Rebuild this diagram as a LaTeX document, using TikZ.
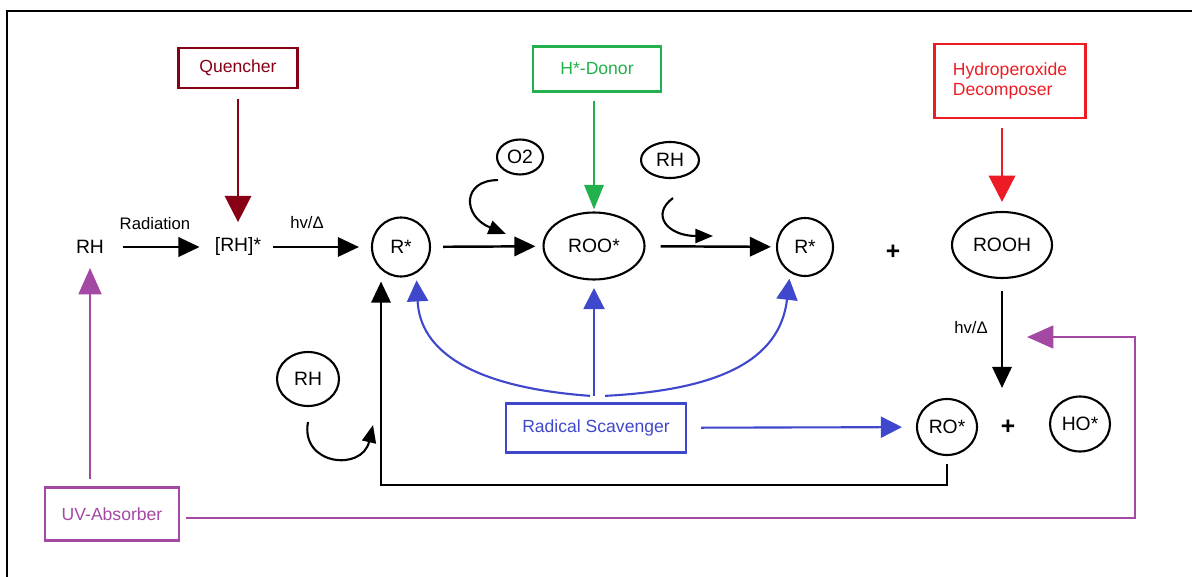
\documentclass[tikz,border=0pt]{standalone}
\usepackage{fontspec}
\setmainfont{Liberation Sans}
\usetikzlibrary{shapes.geometric,arrows.meta}

\definecolor{quenchred}{HTML}{880015}
\definecolor{donorgreen}{HTML}{22B14C}
\definecolor{decompred}{HTML}{ED1C24}
\definecolor{scavblue}{HTML}{3F48CC}
\definecolor{uvpurple}{HTML}{A349A4}

\begin{document}
\begin{tikzpicture}[
  x=0.02cm, y=-0.02cm,
  species/.style={ellipse, draw=black, line width=1.2pt, inner sep=0pt, font=\fontsize{11}{13}\selectfont},
  txt/.style={inner sep=0pt, font=\fontsize{11}{13}\selectfont},
  plus/.style={inner sep=0pt, font=\fontsize{14}{14}\selectfont\bfseries},
  lbl/.style={inner sep=0pt, font=\fontsize{9.5}{11}\selectfont},
  agent/.style={draw=#1, text=#1, line width=1.3pt, inner sep=0pt, font=\fontsize{10}{11.5}\selectfont},
  arr/.style={line width=1.4pt, -{Triangle[width=11pt,length=12pt]}},
  curl/.style={line width=1.2pt, -{Triangle[width=8pt,length=10pt]}},
  qarr/.style={quenchred, line width=1.4pt, -{Triangle[width=15pt,length=15pt]}},
  garr/.style={donorgreen, line width=1.3pt, -{Triangle[width=11pt,length=14pt]}},
  rarr/.style={decompred, line width=1.4pt, -{Triangle[width=15pt,length=15pt]}},
  barr/.style={scavblue, line width=1.2pt, -{Triangle[width=12pt,length=12pt]}},
  parr/.style={uvpurple, line width=1.2pt, -{Triangle[width=13pt,length=15pt]}}
]
  \useasboundingbox (0,0) rectangle (1192,577);

  % Marco
  \draw[line width=1.1pt] (7,577) -- (7,11) -- (1192,11);

  % Especies de la cadena principal
  \node[txt] (rh) at (90,247) {RH};
  \node[txt] (rhx) at (238,247) {[RH]*};
  \node[species, minimum width=1.16cm, minimum height=1.18cm] (r1) at (401,247) {R*};
  \node[species, minimum width=2.02cm, minimum height=1.34cm] (roo) at (594,246) {ROO*};
  \node[species, minimum width=1.12cm, minimum height=1.16cm] (r2) at (805,247) {R*};
  \node[plus] (plus1) at (893,252) {+};
  \node[species, minimum width=2cm, minimum height=1.32cm] (rooh) at (1002,245) {ROOH};
  \node[species, minimum width=1.2cm, minimum height=1.12cm] (ro) at (947,427) {RO*};
  \node[plus] (plus2) at (1008,427) {+};
  \node[species, minimum width=1.2cm, minimum height=1.1cm] (ho) at (1080,424) {HO*};

  % Reactivos auxiliares
  \node[species, minimum width=0.92cm, minimum height=0.7cm] (o2) at (520,157) {O2};
  \node[species, minimum width=1.16cm, minimum height=0.72cm] (rhtop) at (670,160) {RH};
  \node[species, minimum width=1.24cm, minimum height=1.08cm] (rhbot) at (308,379) {RH};

  % Estabilizantes
  \node[agent=quenchred, minimum width=2.38cm, minimum height=0.8cm] (quench) at (238,68) {Quencher};
  \node[agent=donorgreen, minimum width=2.56cm, minimum height=0.9cm] (donor) at (597,69) {H*-Donor};
  \node[agent=decompred, minimum width=3.02cm, minimum height=1.48cm, align=left] (decomp) at (1010,81) {Hydroperoxide\\Decomposer};
  \node[agent=scavblue, minimum width=3.6cm, minimum height=0.98cm] (scav) at (596,428) {Radical Scavenger};
  \node[agent=uvpurple, minimum width=2.68cm, minimum height=1.06cm] (uvabs) at (112,514) {UV-Absorber};

  % Etiquetas de las flechas
  \node[lbl] (radlbl) at (155,224) {Radiation};
  \node[lbl] (hv1) at (307,223) {hv/Δ};
  \node[lbl] (hv2) at (971,328) {hv/Δ};

  % Cadena de reacciones
  \draw[arr, shorten <=0.38cm, shorten >=0.3cm] (rh) -- (rhx);
  \draw[arr, shorten <=0.24cm, shorten >=0.24cm] (rhx) -- (r1);
  \draw[arr, shorten <=0.24cm, shorten >=0.14cm] (r1) -- (roo);
  \draw[arr, shorten <=0.3cm, shorten >=0.1cm] (roo) -- (r2);
  \draw[arr, shorten <=0.24cm, shorten >=0.2cm] (rooh) -- (rooh |- ro.north);
  \draw[arr, shorten <=0.16cm, shorten >=0.08cm] (ro) -- ++(0,58) -| ([xshift=-0.4cm]r1.south);

  % Reactivos que entran en cada paso
  \coordinate (o2hit) at (506,234);
  \coordinate (rhtophit) at (713,236);
  \coordinate (rhbothit) at (373,425);
  \draw[curl] ([shift={(-0.1cm,-0.2cm)}]o2.south west) .. controls (462,180) and (462,216) .. (o2hit);
  \draw[curl] ([shift={(0.06cm,-0.38cm)}]rhtop.south) .. controls (650,215) and (668,236) .. (rhtophit);
  \draw[curl] ([yshift=-0.3cm]rhbot.south) .. controls (300,465) and (362,472) .. (rhbothit);

  % Acciones de los estabilizantes
  \draw[qarr, shorten <=0.2cm, shorten >=0.31cm] (quench) -- (rhx);
  \draw[garr, shorten <=0.17cm, shorten >=0.04cm] (donor.south -| roo) -- (roo);
  \draw[rarr, shorten <=0.18cm, shorten >=0.18cm] (decomp.south -| rooh) -- (rooh);
  \draw[barr, shorten <=0.13cm, shorten >=0.15cm] (scav.north -| roo) -- (roo);
  \draw[barr, shorten >=0.14cm] ([shift={(-0.12cm,0.13cm)}]scav.north) .. controls (470,387) and (420,350) .. (r1.300);
  \draw[barr, shorten >=0.12cm] ([shift={(0.18cm,0.13cm)}]scav.north) .. controls (720,390) and (780,360) .. (r2.240);
  \draw[barr, shorten <=0.28cm, shorten >=0.28cm] (scav) -- (ro);

  % UV-Absorber
  \coordinate (uvturn) at (1135,337);
  \coordinate (uvhit) at (1027,337);
  \draw[parr, shorten <=0.15cm, shorten >=0.28cm] (uvabs.north -| rh) -- (rh);
  \draw[parr, shorten <=0.12cm] ([yshift=-0.08cm]uvabs.east) -| (uvturn) -- (uvhit);
\end{tikzpicture}
\end{document}
